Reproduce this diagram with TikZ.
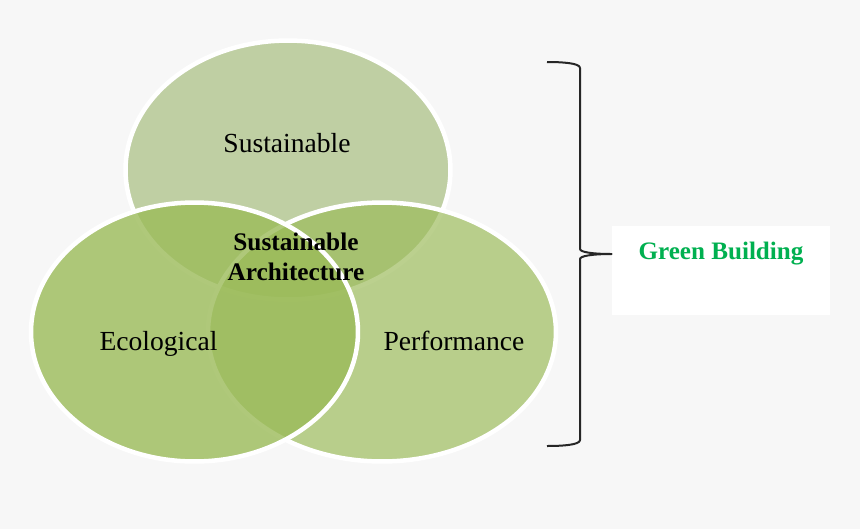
\documentclass[tikz,border=0pt]{standalone}
\usepackage{fontspec}
\setmainfont{Liberation Serif}
\usepackage{xcolor}
\usetikzlibrary{shapes.geometric}
\usetikzlibrary{positioning}
\definecolor{PageColor}{RGB}{247,247,247}
\definecolor{LeafColor}{RGB}{155,187,89}
\definecolor{PaleLeaf}{RGB}{150,178,100}
\definecolor{GreenText}{RGB}{0,176,80}
\tikzstyle{circleset} = [ellipse, draw=white, line width=0.09cm, fill=LeafColor, inner sep=0pt, outer sep=0pt]
\tikzstyle{setlabel} = [font=\fontsize{15.7}{18}\selectfont, text=black]
\tikzstyle{bracepath} = [line width=0.04cm, black!85, line join=round]

\begin{document}
\begin{tikzpicture}[x=0.02cm, y=-0.02cm]
    \fill[PageColor] (0,0) rectangle (860,529);
    \useasboundingbox (0,0) rectangle (860,529);

    % the three sets
    \node[circleset, fill=PaleLeaf, fill opacity=0.57, minimum width=6.5cm, minimum height=5.18cm] (sustainable) at (288,170) {};
    \node[circleset, fill opacity=0.68, minimum width=6.96cm, minimum height=5.18cm] (performance) at (382,332) {};
    \node[circleset, fill opacity=0.8, minimum width=6.54cm, minimum height=5.18cm] (ecological) at (194.5,332) {};

    \node[setlabel, anchor=base] (sustainabletext) at (287,152.5) {Sustainable};
    \node[setlabel, anchor=base] (ecologicaltext) at (158.5,350) {Ecological};
    \node[setlabel, anchor=base] (performancetext) at (454,350) {Performance};
    \node[font=\fontsize{14.4}{17}\selectfont\bfseries, align=center, text=black] (centertext) at (296,257) {Sustainable\\Architecture};

    % box and brace on the right
    \node[fill=white, minimum width=4.36cm, minimum height=1.78cm, inner sep=0pt] (greenbox) at (721,270.5) {};
    \node[font=\fontsize{14.3}{17}\selectfont\bfseries, text=GreenText, anchor=base] (greentext) at (721,259) {Green Building};

    \coordinate (bracetop) at (547,62);
    \coordinate (bracebottom) at (547,446);
    \draw[bracepath] (bracetop) .. controls (562,62) and (580,63) .. (580,68)
        -- (580,249) .. controls (580,252) and (592,254) .. (greenbox.west |- 0,254)
        .. controls (592,254) and (580,256) .. (580,259)
        -- (580,440) .. controls (580,445) and (562,446) .. (bracebottom);
\end{tikzpicture}
\end{document}
